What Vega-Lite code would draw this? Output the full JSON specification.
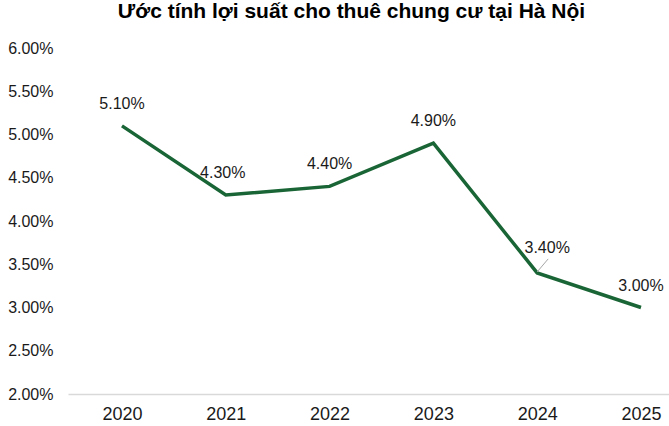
{
  "$schema": "https://vega.github.io/schema/vega-lite/v6.json",
  "width": 601,
  "height": 346,
  "autosize": {"type": "none"},
  "padding": {"left": 68, "top": 48, "right": 0, "bottom": 32},
  "background": "white",
  "config": {"view": {"stroke": null}, "font": "Liberation Sans"},
  "title": {
    "text": "Ước tính lợi suất cho thuê chung cư tại Hà Nội",
    "font": "Liberation Sans",
    "fontSize": 21,
    "fontWeight": "bold",
    "color": "#000000",
    "anchor": "middle",
    "dx": -17,
    "offset": 18
  },
  "data": {
    "values": [
      {"year": 2020, "value": 0.051},
      {"year": 2021, "value": 0.043},
      {"year": 2022, "value": 0.044},
      {"year": 2023, "value": 0.049},
      {"year": 2024, "value": 0.034},
      {"year": 2025, "value": 0.030}
    ]
  },
  "encoding": {
    "x": {
      "field": "year",
      "type": "quantitative",
      "scale": {"domain": [2019.48, 2025.27], "nice": false, "zero": false},
      "axis": {
        "title": null,
        "values": [2020, 2021, 2022, 2023, 2024, 2025],
        "format": "d",
        "grid": false,
        "ticks": false,
        "tickSize": 0,
        "domainColor": "#d9d9d9",
        "domainWidth": 1.5,
        "labelFontSize": 18,
        "labelColor": "#1a1a1a",
        "labelPadding": 11,
        "labelFont": "Liberation Sans"
      }
    },
    "y": {
      "field": "value",
      "type": "quantitative",
      "scale": {"domain": [0.02, 0.06], "nice": false, "zero": false},
      "axis": {
        "title": null,
        "values": [0.02, 0.025, 0.03, 0.035, 0.04, 0.045, 0.05, 0.055, 0.06],
        "format": ".2%",
        "grid": false,
        "domain": false,
        "ticks": false,
        "tickSize": 0,
        "labelFontSize": 16,
        "labelColor": "#1a1a1a",
        "labelPadding": 15,
        "labelFont": "Liberation Sans"
      }
    }
  },
  "layer": [
    {
      "mark": {"type": "line", "color": "#1a6535", "strokeWidth": 3.5, "strokeJoin": "miter"}
    },
    {
      "transform": [{"filter": "datum.year == 2024"}],
      "mark": {"type": "rule", "color": "#a6a6a6", "strokeWidth": 1, "x2Offset": 11, "y2Offset": -14, "yOffset": -1},
      "encoding": {
        "x2": {"field": "year"},
        "y2": {"field": "value"}
      }
    },
    {
      "transform": [{"filter": "datum.year != 2024 && datum.year != 2021"}],
      "mark": {"type": "text", "dy": -22, "fontSize": 16, "color": "#1a1a1a", "font": "Liberation Sans"},
      "encoding": {"text": {"field": "value", "format": ".2%"}}
    },
    {
      "transform": [{"filter": "datum.year == 2021"}],
      "mark": {"type": "text", "dy": -22, "dx": -3, "fontSize": 16, "color": "#1a1a1a", "font": "Liberation Sans"},
      "encoding": {"text": {"field": "value", "format": ".2%"}}
    },
    {
      "transform": [{"filter": "datum.year == 2024"}],
      "mark": {"type": "text", "dy": -25, "dx": 10, "fontSize": 16, "color": "#1a1a1a", "font": "Liberation Sans"},
      "encoding": {"text": {"field": "value", "format": ".2%"}}
    }
  ]
}
